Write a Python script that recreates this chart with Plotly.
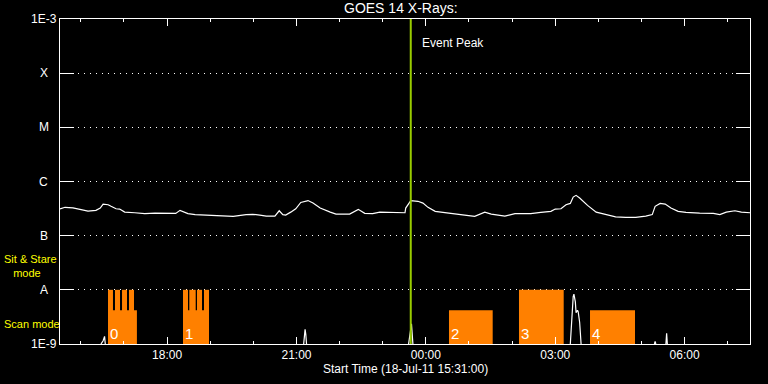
import plotly.graph_objects as go

title_text = "GOES 14 X-Rays:"
xaxis_title = "Start Time (18-Jul-11 15:31:00)"
x_range = ["2011-07-18 15:31", "2011-07-19 07:31"]

# GOES long channel (1-8 A) flux, W/m^2
long_time = [
    "2011-07-18 15:31", "2011-07-18 15:38", "2011-07-18 15:49", "2011-07-18 15:56", "2011-07-18 16:03",
    "2011-07-18 16:10", "2011-07-18 16:21", "2011-07-18 16:27", "2011-07-18 16:31", "2011-07-18 16:38",
    "2011-07-18 16:42", "2011-07-18 16:49", "2011-07-18 16:54", "2011-07-18 17:01", "2011-07-18 17:15",
    "2011-07-18 17:29", "2011-07-18 17:43", "2011-07-18 18:01", "2011-07-18 18:12", "2011-07-18 18:18",
    "2011-07-18 18:22", "2011-07-18 18:29", "2011-07-18 18:39", "2011-07-18 18:53", "2011-07-18 19:07",
    "2011-07-18 19:21", "2011-07-18 19:32", "2011-07-18 19:50", "2011-07-18 19:59", "2011-07-18 20:09",
    "2011-07-18 20:18", "2011-07-18 20:30", "2011-07-18 20:36", "2011-07-18 20:41", "2011-07-18 20:45",
    "2011-07-18 20:52", "2011-07-18 20:59", "2011-07-18 21:06", "2011-07-18 21:16", "2011-07-18 21:23",
    "2011-07-18 21:33", "2011-07-18 21:47", "2011-07-18 21:55", "2011-07-18 22:14", "2011-07-18 22:26",
    "2011-07-18 22:35", "2011-07-18 22:46", "2011-07-18 22:56", "2011-07-18 23:10", "2011-07-18 23:24",
    "2011-07-18 23:31", "2011-07-18 23:32", "2011-07-18 23:37", "2011-07-18 23:39", "2011-07-18 23:49",
    "2011-07-18 23:56", "2011-07-19 00:03", "2011-07-19 00:13", "2011-07-19 00:21", "2011-07-19 00:35",
    "2011-07-19 00:54", "2011-07-19 01:08", "2011-07-19 01:15", "2011-07-19 01:22", "2011-07-19 01:31",
    "2011-07-19 01:50", "2011-07-19 02:04", "2011-07-19 02:26", "2011-07-19 02:40", "2011-07-19 02:54",
    "2011-07-19 03:00", "2011-07-19 03:08", "2011-07-19 03:15", "2011-07-19 03:21", "2011-07-19 03:25",
    "2011-07-19 03:29", "2011-07-19 03:34", "2011-07-19 03:41", "2011-07-19 03:45", "2011-07-19 03:57",
    "2011-07-19 04:11", "2011-07-19 04:24", "2011-07-19 04:38", "2011-07-19 04:52", "2011-07-19 05:06",
    "2011-07-19 05:15", "2011-07-19 05:19", "2011-07-19 05:26", "2011-07-19 05:33", "2011-07-19 05:41",
    "2011-07-19 05:51", "2011-07-19 06:02", "2011-07-19 06:21", "2011-07-19 06:40", "2011-07-19 06:49",
    "2011-07-19 06:58", "2011-07-19 07:10", "2011-07-19 07:19", "2011-07-19 07:31",
]
long_flux = [
    3.13e-7, 3.34e-7, 3.27e-7, 3.10e-7, 2.93e-7,
    2.84e-7, 2.93e-7, 3.23e-7, 3.83e-7, 3.72e-7,
    3.48e-7, 3.14e-7, 3.10e-7, 2.72e-7, 2.65e-7,
    2.55e-7, 2.61e-7, 2.58e-7, 2.58e-7, 2.93e-7,
    2.81e-7, 2.55e-7, 2.45e-7, 2.40e-7, 2.40e-7,
    2.30e-7, 2.27e-7, 2.45e-7, 2.48e-7, 2.40e-7,
    2.30e-7, 2.30e-7, 2.88e-7, 2.45e-7, 2.40e-7,
    2.72e-7, 3.14e-7, 4.11e-7, 4.45e-7, 4.00e-7,
    3.23e-7, 2.72e-7, 2.50e-7, 2.50e-7, 3.06e-7,
    2.58e-7, 2.55e-7, 2.72e-7, 2.69e-7, 2.65e-7,
    2.65e-7, 3.23e-7, 4.17e-7, 4.45e-7, 4.31e-7,
    4.00e-7, 3.33e-7, 2.81e-7, 2.72e-7, 2.55e-7,
    2.40e-7, 2.27e-7, 2.45e-7, 2.72e-7, 2.50e-7,
    2.30e-7, 2.55e-7, 2.55e-7, 2.69e-7, 2.81e-7,
    3.10e-7, 3.14e-7, 3.72e-7, 3.94e-7, 5.16e-7,
    5.55e-7, 4.95e-7, 4.00e-7, 3.62e-7, 2.72e-7,
    2.45e-7, 2.23e-7, 2.18e-7, 2.18e-7, 2.30e-7,
    2.45e-7, 3.48e-7, 3.94e-7, 3.83e-7, 3.23e-7,
    2.81e-7, 2.69e-7, 2.61e-7, 2.58e-7, 2.45e-7,
    2.72e-7, 2.88e-7, 2.72e-7, 2.65e-7,
]

# GOES short channel (0.5-4 A) excursions above 1E-9 (None = below plot floor)
short_time = [
    "2011-07-18 16:28", "2011-07-18 16:31", "2011-07-18 16:33", "2011-07-18 16:34", None,
    "2011-07-18 21:10", "2011-07-18 21:11", "2011-07-18 21:12", "2011-07-18 21:13", "2011-07-18 21:14", None,
    "2011-07-18 23:36", "2011-07-18 23:38", "2011-07-18 23:40", "2011-07-18 23:42", None,
    "2011-07-19 03:21", "2011-07-19 03:23", "2011-07-19 03:25", "2011-07-19 03:26", "2011-07-19 03:28",
    "2011-07-19 03:29", "2011-07-19 03:31", "2011-07-19 03:32", "2011-07-19 03:34", "2011-07-19 03:36", None,
    "2011-07-19 05:18", "2011-07-19 05:19", "2011-07-19 05:20", None,
    "2011-07-19 05:34", "2011-07-19 05:35", "2011-07-19 05:36",
]
short_flux = [
    1.0e-9, 1.15e-9, 1.38e-9, 1.0e-9, None,
    1.0e-9, 1.6e-9, 1.86e-9, 1.5e-9, 1.0e-9, None,
    1.0e-9, 1.6e-9, 2.35e-9, 1.0e-9, None,
    1.0e-9, 3.5e-9, 7.5e-9, 8.3e-9, 6.0e-9,
    3.8e-9, 4.2e-9, 3.9e-9, 2.5e-9, 1.0e-9, None,
    1.0e-9, 1.12e-9, 1.0e-9, None,
    1.0e-9, 1.58e-9, 1.0e-9,
]

# Observations: start, end, mode level (scan ~4.2E-9, sit & stare 1E-8)
obs_start = [
    "2011-07-18 16:37:48", "2011-07-18 16:37:48", "2011-07-18 16:47:30", "2011-07-18 16:57:18", "2011-07-18 17:07:00",
    "2011-07-18 18:22:06", "2011-07-18 18:22:06", "2011-07-18 18:30:54", "2011-07-18 18:41:36", "2011-07-18 18:51:18",
    "2011-07-19 00:32:12", "2011-07-19 02:09:36", "2011-07-19 03:48:24",
]
obs_end = [
    "2011-07-18 17:18:00", "2011-07-18 16:44:42", "2011-07-18 16:54:30", "2011-07-18 17:04:12", "2011-07-18 17:14:00",
    "2011-07-18 18:58:18", "2011-07-18 18:29:06", "2011-07-18 18:39:48", "2011-07-18 18:48:36", "2011-07-18 18:58:18",
    "2011-07-19 01:33:00", "2011-07-19 03:11:48", "2011-07-19 04:51:00",
]
obs_level = [
    4.2e-9, 1e-8, 1e-8, 1e-8, 1e-8,
    4.2e-9, 1e-8, 1e-8, 1e-8, 1e-8,
    4.2e-9, 1e-8, 4.2e-9,
]
block_labels = ["0", "1", "2", "3", "4"]
block_label_time = ["2011-07-18 16:37:48", "2011-07-18 18:22:06", "2011-07-19 00:32:12",
                    "2011-07-19 02:09:36", "2011-07-19 03:48:24"]

event_peak_time = "2011-07-18 23:39"
event_label = "Event Peak"

ytick_vals = [1e-9, 1e-8, 1e-7, 1e-6, 1e-5, 1e-4, 1e-3]
ytick_text = ["1E-9", "A", "B", "C", "M", "X", "1E-3"]
ytick_logs = [-9, -8, -7, -6, -5, -4, -3]

FONT = "Liberation Sans"
ORANGE = "#ff8000"
GREEN = "#99cc00"

fig = go.Figure()

for s, e, lv in zip(obs_start, obs_end, obs_level):
    fig.add_trace(go.Scatter(
        x=[s, s, e, e, s], y=[1e-9, lv, lv, 1e-9, 1e-9],
        mode="lines", fill="toself", fillcolor=ORANGE,
        line=dict(width=0, color=ORANGE), hoverinfo="skip", showlegend=False,
    ))

fig.add_trace(go.Scatter(x=long_time, y=long_flux, mode="lines",
                         line=dict(color="white", width=1.2), showlegend=False))
fig.add_trace(go.Scatter(x=short_time, y=short_flux, mode="lines", connectgaps=False,
                         line=dict(color="white", width=1.2), showlegend=False))
fig.add_trace(go.Scatter(x=[event_peak_time, event_peak_time], y=[1e-9, 1e-3], mode="lines",
                         line=dict(color=GREEN, width=2), showlegend=False))

annotations = []
for t, lab in zip(block_label_time, block_labels):
    annotations.append(dict(x=t, y=-8.8, xref="x", yref="y", text=lab, showarrow=False,
                            xanchor="left", yanchor="middle", xshift=0,
                            font=dict(family=FONT, size=15, color="white")))
for lg, lab in zip(ytick_logs, ytick_text):
    annotations.append(dict(x=-0.0232, y=lg, xref="paper", yref="y", text=lab, showarrow=False,
                            xanchor="center", yanchor="middle",
                            font=dict(family=FONT, size=12, color="white")))
annotations += [
    dict(x=event_peak_time, y=-3.435, xref="x", yref="y", text=event_label, showarrow=False,
         xanchor="left", yanchor="middle", xshift=9, font=dict(family=FONT, size=12, color="white")),
    dict(x=(401 - 60) / 690, y=(344 - 8) / 325, xref="paper", yref="paper", text=title_text,
         showarrow=False, xanchor="center", yanchor="middle",
         font=dict(family=FONT, size=14, color="white")),
    dict(x=(405 - 60) / 690, y=(344 - 369) / 325, xref="paper", yref="paper", text=xaxis_title,
         showarrow=False, xanchor="center", yanchor="middle",
         font=dict(family=FONT, size=12, color="white")),
    dict(x=(2 - 60) / 690, y=(344 - 266) / 325, xref="paper", yref="paper",
         text="Sit & Stare<br>\u00a0\u00a0\u00a0mode",
         showarrow=False, xanchor="left", yanchor="middle", align="left",
         font=dict(family=FONT, size=11, color="#ffff00")),
    dict(x=(2 - 60) / 690, y=(344 - 324) / 325, xref="paper", yref="paper", text="Scan mode",
         showarrow=False, xanchor="left", yanchor="middle",
         font=dict(family=FONT, size=11, color="#ffff00")),
]

fig.update_layout(
    width=768, height=384,
    margin=dict(l=60, r=18, t=19, b=40),
    paper_bgcolor="black", plot_bgcolor="black",
    showlegend=False,
    annotations=annotations,
    xaxis=dict(
        type="date", range=x_range, showgrid=False, zeroline=False,
        showline=True, linecolor="white", linewidth=1, mirror="ticks",
        ticks="inside", ticklen=7, tickcolor="white", tickwidth=1,
        tick0="2011-07-18 00:00", dtick=3 * 3600000, tickformat="%H:%M",
        tickfont=dict(family=FONT, size=12, color="white"),
        minor=dict(dtick=3600000, ticks="inside", ticklen=3, tickcolor="white", showgrid=False),
    ),
    yaxis=dict(
        type="log", range=[-9, -3], showticklabels=False,
        showline=True, linecolor="white", linewidth=1, mirror="ticks",
        ticks="inside", ticklen=14, tickcolor="white", tickwidth=1,
        tickvals=ytick_vals,
        showgrid=True, gridcolor="white", gridwidth=1, griddash="1px,5px",
        zeroline=False,
    ),
)

fig.write_html("out.html")
